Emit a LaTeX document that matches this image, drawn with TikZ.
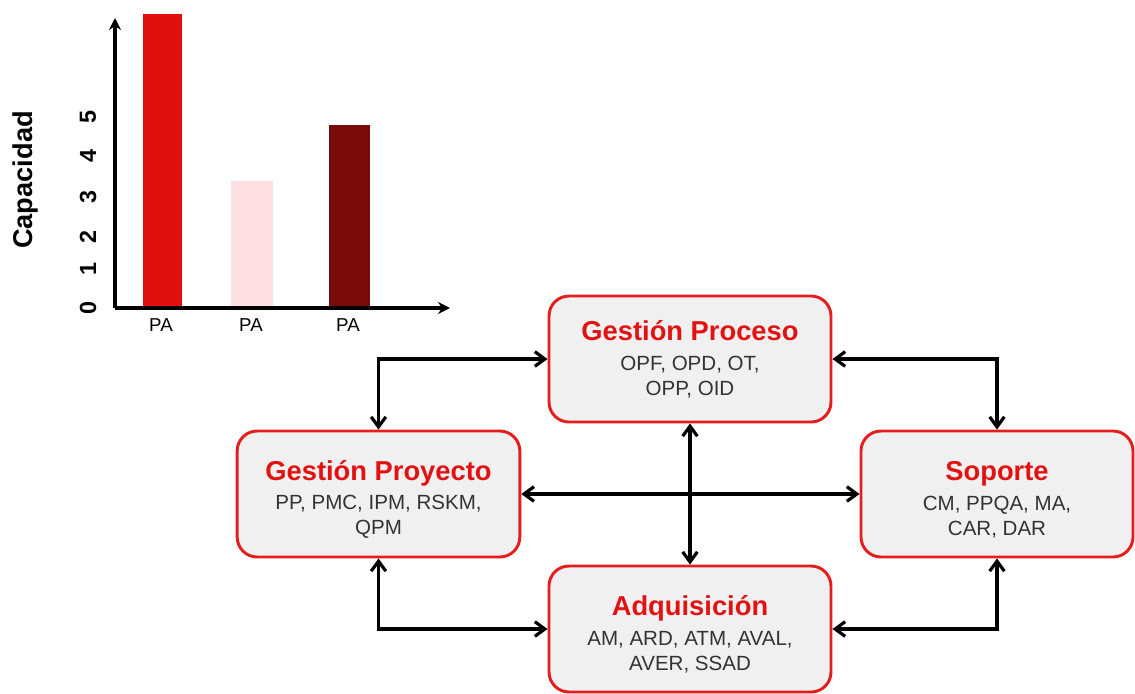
\documentclass[tikz,border=0pt]{standalone}
\usepackage{fontspec}
\setmainfont{Liberation Sans}
\usetikzlibrary{arrows.meta}
\definecolor{boxred}{HTML}{E41E1E}
\definecolor{titred}{HTML}{E31212}
\definecolor{boxfill}{HTML}{F0F0F0}
\definecolor{bodygray}{HTML}{333333}
\definecolor{barA}{HTML}{E01010}
\definecolor{barB}{HTML}{FFE0E2}
\definecolor{barC}{HTML}{7A0A0A}
\tikzset{
  area/.style={draw=boxred, line width=2.2pt, fill=boxfill, rounded corners=15pt,
    minimum height=94.5pt, align=center, inner sep=0pt, text=bodygray,
    font=\fontsize{15.4}{18.75}\selectfont},
  barb/.tip={Straight Barb[length=7.5pt,width=11pt,line width=2.4pt]},
  dar/.style={barb-barb, line width=2.4pt, black},
  tick/.style={rotate=90, font=\bfseries\fontsize{17.5}{17.5}\selectfont, anchor=center},
  palab/.style={font=\fontsize{14}{14}\selectfont, anchor=center},
}
\newcommand{\ttl}[1]{{\color{titred}\bfseries\fontsize{20.5}{20.5}\selectfont #1}\\[3.5pt]}
\newcommand{\ttlb}[1]{{\color{titred}\bfseries\fontsize{20.5}{20.5}\selectfont\rule{0pt}{23pt}#1}\\[3.5pt]}
\begin{document}
\begin{tikzpicture}[x=0.75pt,y=-0.75pt]
\useasboundingbox (0,0) rectangle (1135,693);
% chart
\fill[barA] (143,14) rectangle (182,308);
\fill[barB] (231,181) rectangle (273,308);
\fill[barC] (329,125) rectangle (370,308);
\coordinate (o) at (115,308);
\coordinate (ytop) at (115,18);
\coordinate (xend) at (450,308);
\draw[line width=2.3pt, -{Stealth[length=9pt,width=9pt,inset=3pt]}] (o) -- (ytop);
\draw[line width=2.3pt, -{Stealth[length=9pt,width=9pt,inset=3pt]}] (o) -- (xend);
\node[tick] (t0) at (88,308) {0};
\node[tick] (t1) at (88,269) {1};
\node[tick] (t2) at (88,237) {2};
\node[tick] (t3) at (88,197) {3};
\node[tick] (t4) at (88,156) {4};
\node[tick] (t5) at (88,117) {5};
\node[rotate=90, font=\bfseries\fontsize{20.4}{20.4}\selectfont] (cap) at (25,180) {Capacidad};
\node[palab] (pa1) at (161,325) {PA};
\node[palab] (pa2) at (251,325) {PA};
\node[palab] (pa3) at (348,325) {PA};
% boxes
\node[area, minimum width=211.5pt] (proc) at (690,359) {\ttl{Gestión Proceso}OPF, OPD, OT,\\ OPP, OID};
\node[area, minimum width=212pt] (proy) at (378.5,494) {\ttlb{Gestión Proyecto}PP, PMC,\ IPM,\ RSKM,\\ QPM};
\node[area, minimum width=204pt] (sop) at (997,494) {\ttlb{Soporte}CM, PPQA,\ MA,\\ CAR, DAR};
\node[area, minimum width=211.5pt] (adq) at (690,629) {\ttlb{Adquisición}AM, ARD, ATM, AVAL,\\ AVER, SSAD};
% connectors
\draw[dar] (proc.west) -| (proy.north);
\draw[dar] (proc.east) -| (sop.north);
\draw[dar] (proy.east) -- (sop.west);
\draw[dar] (proc.south) -- (adq.north);
\draw[dar] (proy.south) |- (adq.west);
\draw[dar] (sop.south) |- (adq.east);
\end{tikzpicture}
\end{document}
